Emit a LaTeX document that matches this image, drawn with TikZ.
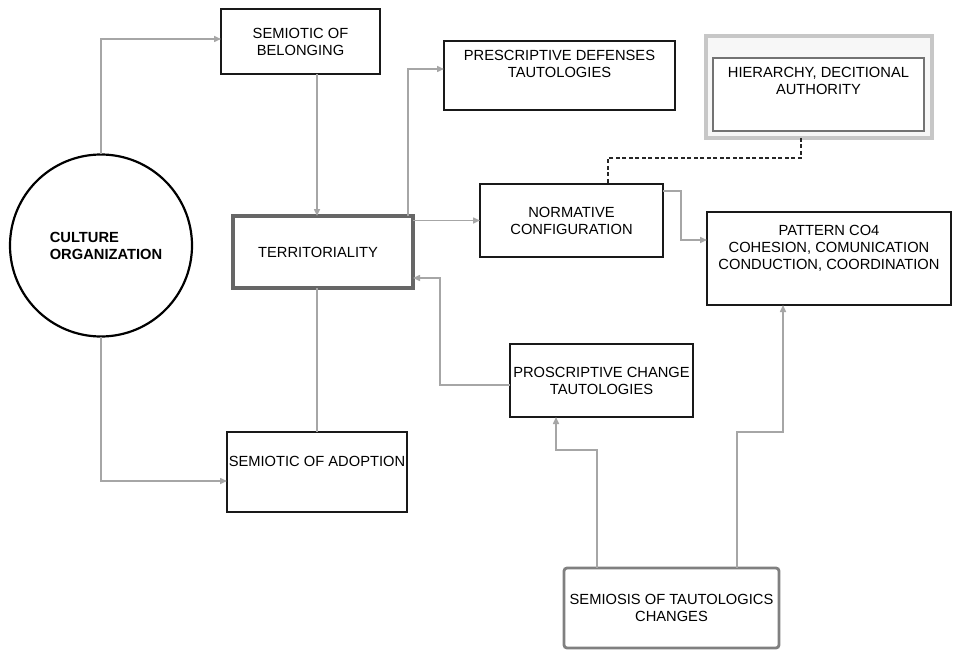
\documentclass[tikz,border=0pt]{standalone}
\usepackage{fontspec}
\setmainfont{Liberation Sans}
\usetikzlibrary{arrows.meta,calc}

\tikzset{
  box/.style={draw=black!90, line width=2.9pt, fill=white, rectangle, inner sep=0pt, outer sep=0pt,
    align=center, font=\fontsize{14.7}{17}\selectfont},
  greybox/.style={box, draw=black!60, line width=3.2pt},
  softbox/.style={box, draw=black!50, line width=2.8pt, rounded corners=3pt},
  conn/.style={draw=black!35, line width=1.5pt},
  arr/.style={conn, -{Triangle[length=7pt,width=6pt]}},
  dashconn/.style={draw=black!85, line width=1.5pt, dash pattern=on 4pt off 2.5pt}
}

\begin{document}
\begin{tikzpicture}[x=1pt,y=-1pt]
  \useasboundingbox[fill=white] (0,0) rectangle (953,650);

  % central circle
  \node[circle, draw=black, line width=2.2pt, minimum size=182pt, inner sep=0pt, outer sep=0pt,
        align=left, font=\fontsize{14.7}{17}\selectfont\bfseries] (circ) at (101,245.5)
        {\hspace*{10pt}CULTURE\\\hspace*{10pt}ORGANIZATION};

  % boxes
  \node[box, minimum width=159pt, minimum height=65pt] (belong) at (300.5,41.5) {SEMIOTIC OF\\BELONGING};
  \node[box, minimum width=231pt, minimum height=69pt] (presc) at (559.5,75.5) {PRESCRIPTIVE DEFENSES\\TAUTOLOGIES\\[6pt]};
  \node[greybox, minimum width=180pt, minimum height=72pt] (terr) at (323,252) {TERRITORIALITY\hspace*{10pt}};
  \node[box, minimum width=183pt, minimum height=73pt] (norm) at (571.5,220.5) {NORMATIVE\\CONFIGURATION};

  % authority frame: soft outer frame around the inner box
  \node[rectangle, draw=black!22, line width=4pt, fill=black!3, inner sep=0pt, outer sep=0pt,
        minimum width=226pt, minimum height=102pt] (hierout) at (819,87) {};
  \node[box, draw=black!55, line width=2.6pt, minimum width=211pt, minimum height=73pt] (hier) at (818.5,94.5)
        {HIERARCHY, DECITIONAL\\AUTHORITY\\[10pt]};

  \node[box, minimum width=244pt, minimum height=93pt] (pat) at (829,258.5)
        {PATTERN CO4\\COHESION, COMUNICATION\\CONDUCTION, COORDINATION\\[6pt]};
  \node[box, minimum width=183pt, minimum height=73pt] (pros) at (601.5,380.5) {PROSCRIPTIVE CHANGE\\TAUTOLOGIES};
  \node[box, minimum width=180pt, minimum height=80pt] (adopt) at (317,472) {SEMIOTIC OF ADOPTION\\[4pt]};
  \node[softbox, minimum width=215pt, minimum height=80pt] (sem) at (671.5,608) {SEMIOSIS OF TAUTOLOGICS\\CHANGES};

  % connectors
  \draw[arr] (circ.north) |- ([yshift=2.5pt]belong.west);
  \draw[arr] ([xshift=-6pt]terr.north |- belong.south) -- ([xshift=-6pt]terr.north);
  \draw[arr] ([xshift=-5pt]terr.north east) |- ([yshift=6.5pt]presc.west);
  \draw[arr] (terr.east |- norm.west) -- (norm.west);
  \draw[dashconn] ([xshift=-18pt]hierout.south) -- ++(0,20) -| ([xshift=36.5pt]norm.north);
  \draw[arr] ([yshift=-7pt]norm.north east) -- ++(18,0) |- ([yshift=18.5pt]pat.west);
  \draw[arr] ([xshift=65.5pt]sem.north) -- ++(0,-136) -| ([xshift=-46pt]pat.south);
  \draw[arr] ([xshift=-74.5pt]sem.north) -- ++(0,-118) -| ([xshift=-45.5pt]pros.south);
  \draw[arr] ([yshift=-4.5pt]pros.west) -- ++(-70,0) |- ([yshift=-26pt]terr.east);
  \draw[conn] (adopt.north |- terr.south) -- (adopt.north);
  \draw[arr] (circ.south) |- ([yshift=-9pt]adopt.west);
\end{tikzpicture}
\end{document}
